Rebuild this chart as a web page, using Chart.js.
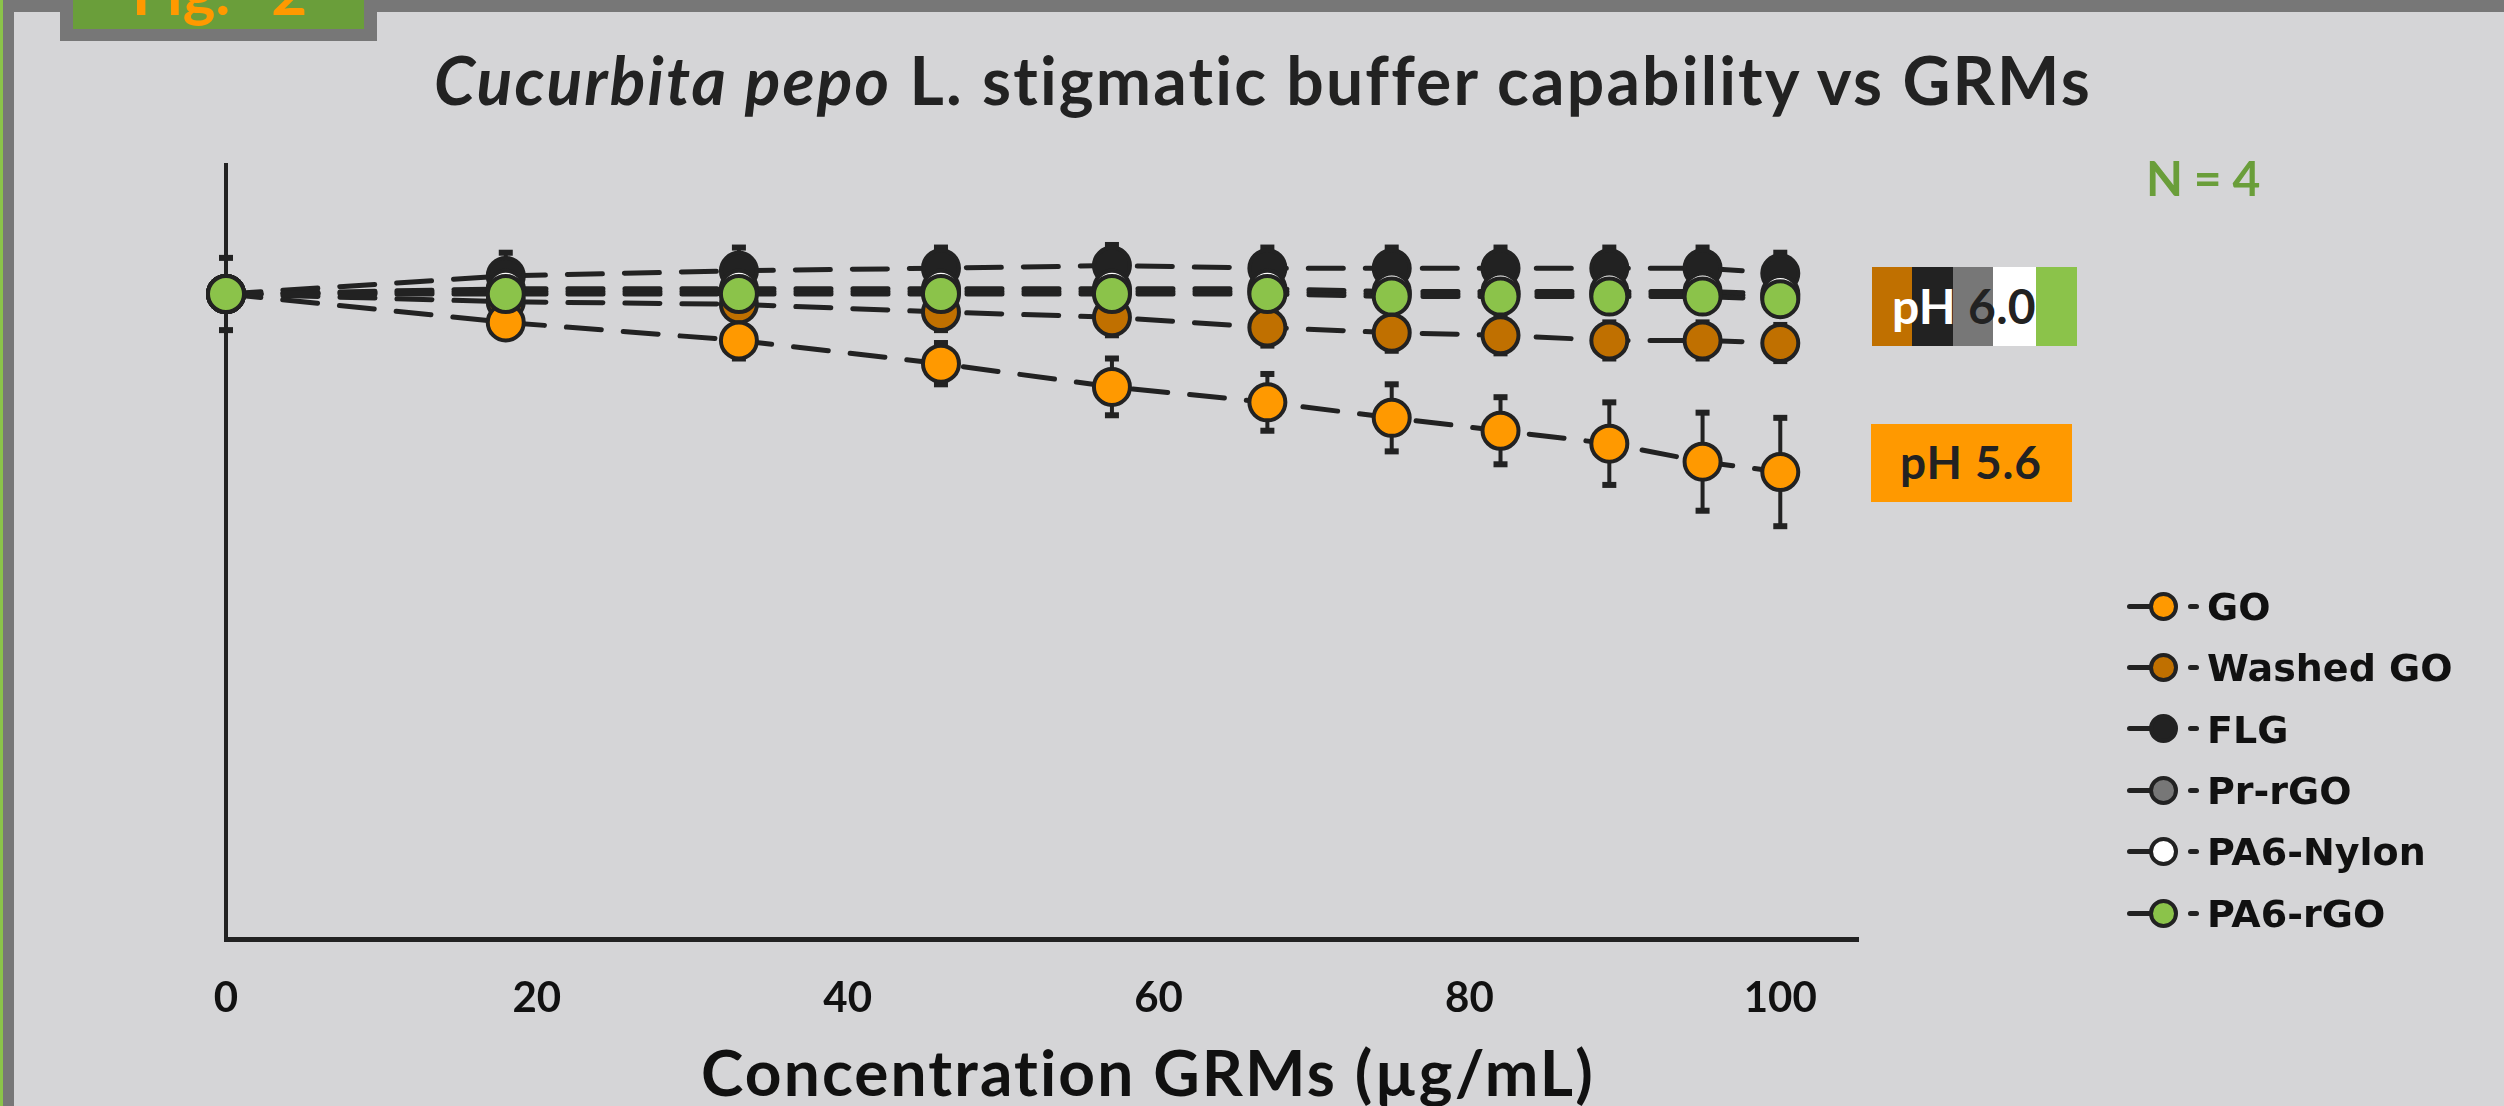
<!DOCTYPE html>
<html>
<head>
<meta charset="utf-8">
<script src="https://cdn.jsdelivr.net/npm/chart.js@4.4.1/dist/chart.umd.min.js"></script>
<style>
html,body{margin:0;padding:0;}
body{width:2504px;height:1106px;overflow:hidden;background:#D5D5D7;position:relative;font-family:Lato,sans-serif;}
.abs{position:absolute;white-space:nowrap;}
#topbar{left:0;top:0;width:2504px;height:12px;background:#777;}
#leftbar{left:0;top:0;width:14px;height:1106px;background:#777;border-left:3px solid #8BC34A;box-sizing:border-box;}
#tab{left:60px;top:0;width:317px;height:41px;background:#777;overflow:hidden;}
#tabInner{left:13px;top:0;width:291px;height:29px;background:#6A9E3A;overflow:hidden;}
#tabText{left:59px;top:-40px;font-size:62px;line-height:62px;font-weight:700;color:#FF9900;word-spacing:26px;}
#title{left:434px;top:46.5px;font-size:66px;line-height:66px;font-weight:700;color:#222;}
#xtitle{left:701px;top:1040.2px;font-size:64px;line-height:64px;font-weight:700;color:#111;}
#nlabel{left:2146px;top:154.4px;font-size:48px;line-height:48px;font-weight:700;color:#6A9E3A;}
#ph60{left:1872px;top:267px;width:205px;height:79px;
  background:linear-gradient(to right,#C07000 0,#C07000 40px,#222 40px,#222 81px,#777 81px,#777 121px,#FFF 121px,#FFF 164px,#8BC34A 164px,#8BC34A 205px);}
#ph60 span.t{position:absolute;left:20px;top:15.4px;font-size:48px;line-height:48px;font-weight:700;white-space:nowrap;}
#ph56{left:1871px;top:424px;width:201px;height:78px;background:#FF9900;}
#ph56 span.t{position:absolute;left:29px;top:15.2px;font-size:46px;line-height:46px;font-weight:700;color:#222;white-space:nowrap;}
#c{left:0;top:0;}
.lg-line{position:absolute;background:#222;height:5px;border-radius:2.5px;}
.lg-dot{position:absolute;width:29px;height:29px;border:4px solid #222;border-radius:50%;box-sizing:border-box;}
.lg-text{position:absolute;font-family:"DejaVu Sans",sans-serif;font-weight:700;font-size:38px;line-height:38px;color:#111;white-space:nowrap;}
</style>
</head>
<body>
<div id="topbar" class="abs"></div>
<div id="leftbar" class="abs"></div>
<div id="tab" class="abs"><div id="tabInner" class="abs"><span id="tabText" class="abs">Fig. 2</span></div></div>
<canvas id="c" class="abs" width="2504" height="1106"></canvas>
<div id="title" class="abs"><i>Cucurbita pepo</i> L. stigmatic buffer capability vs GRMs</div>
<div id="xtitle" class="abs"></div>
<div id="nlabel" class="abs">N = 4</div>
<div id="ph60" class="abs"><span class="t"><span style="color:#FFF">pH</span><span style="color:#222"> 6.0</span></span></div>
<div id="ph56" class="abs"><span class="t">pH 5.6</span></div>
<div id="legend"></div>
<script>
// ---------- data ----------
const xValues = [0, 18, 33, 46, 57, 67, 75, 82, 89, 95, 100];
const xTickValues = [0, 20, 40, 60, 80, 100];
const xTitle = 'Concentration GRMs (µg/mL)';

const seriesNames = ['GO', 'Washed GO', 'FLG', 'Pr-rGO', 'PA6-Nylon', 'PA6-rGO'];

const goValues        = [6.50, 6.39, 6.32, 6.23, 6.14, 6.08, 6.02, 5.97, 5.92, 5.85, 5.81];
const goErrors        = [0.14, 0.05, 0.07, 0.08, 0.11, 0.11, 0.13, 0.13, 0.16, 0.19, 0.21];
const washedGoValues  = [6.50, 6.47, 6.46, 6.43, 6.41, 6.37, 6.35, 6.34, 6.32, 6.32, 6.31];
const washedGoErrors  = [0.05, 0.07, 0.07, 0.07, 0.07, 0.07, 0.07, 0.07, 0.07, 0.07, 0.07];
const flgValues       = [6.50, 6.57, 6.59, 6.60, 6.61, 6.60, 6.60, 6.60, 6.60, 6.60, 6.58];
const flgErrors       = [0.05, 0.09, 0.09, 0.08, 0.08, 0.08, 0.08, 0.08, 0.08, 0.08, 0.08];
const prRgoValues     = [6.50, 6.51, 6.51, 6.51, 6.51, 6.51, 6.50, 6.50, 6.50, 6.50, 6.49];
const prRgoErrors     = [0.03, 0.03, 0.03, 0.03, 0.03, 0.03, 0.03, 0.03, 0.03, 0.03, 0.03];
const nylonValues     = [6.50, 6.52, 6.52, 6.52, 6.52, 6.52, 6.51, 6.51, 6.51, 6.51, 6.50];
const nylonErrors     = [0.03, 0.03, 0.03, 0.03, 0.03, 0.03, 0.03, 0.03, 0.03, 0.03, 0.03];
const pa6RgoValues    = [6.50, 6.50, 6.50, 6.50, 6.50, 6.50, 6.49, 6.49, 6.49, 6.49, 6.48];
const pa6RgoErrors    = [0.03, 0.03, 0.03, 0.03, 0.03, 0.03, 0.03, 0.03, 0.03, 0.03, 0.03];

const seriesValues = [goValues, washedGoValues, flgValues, prRgoValues, nylonValues, pa6RgoValues];
const seriesErrors = [goErrors, washedGoErrors, flgErrors, prRgoErrors, nylonErrors, pa6RgoErrors];

// ---------- styles ----------
const seriesColors = ['#FF9900', '#C07000', '#222222', '#777777', '#FFFFFF', '#8BC34A'];
const drawOrder    = [4, 5, 3, 2, 1, 0]; // lower = drawn on top

// ---------- error bars plugin ----------
const errorBarPlugin = {
  id: 'errorBars',
  beforeDatasetsDraw(chart) {
    const ctx = chart.ctx;
    const xs = chart.scales.x, ys = chart.scales.y;
    ctx.save();
    ctx.strokeStyle = '#222';
    ctx.fillStyle = '#222';
    ctx.lineWidth = 4;
    chart.data.datasets.forEach((ds, i) => {
      if (!chart.isDatasetVisible(i) || !ds.errors) return;
      ds.data.forEach((p, j) => {
        const e = ds.errors[j];
        if (!e) return;
        const px = xs.getPixelForValue(p.x);
        const yt = ys.getPixelForValue(p.y + e);
        const yb = ys.getPixelForValue(p.y - e);
        ctx.beginPath();
        ctx.moveTo(px, yt);
        ctx.lineTo(px, yb);
        ctx.stroke();
        ctx.fillRect(px - 7, yt - 3, 14, 6);
        ctx.fillRect(px - 7, yb - 3, 14, 6);
      });
    });
    ctx.restore();
  }
};

// ---------- chart ----------
const datasets = seriesNames.map((name, i) => ({
  label: name,
  data: xValues.map((x, j) => ({ x: x, y: seriesValues[i][j] })),
  errors: seriesErrors[i],
  borderColor: '#222',
  borderWidth: 5,
  borderDash: [35, 22],
  borderCapStyle: 'round',
  pointRadius: 18,
  pointHoverRadius: 18,
  pointBorderWidth: 4,
  pointBackgroundColor: seriesColors[i],
  pointBorderColor: '#222',
  tension: 0,
  fill: false,
  clip: false,
  order: drawOrder[i]
}));

new Chart(document.getElementById('c'), {
  type: 'line',
  data: { datasets: datasets },
  options: {
    responsive: false,
    animation: false,
    events: [],
    layout: { padding: { left: 226, right: 646, top: 165, bottom: 0 } },
    plugins: { legend: { display: false }, tooltip: { enabled: false }, title: { display: false } },
    scales: {
      x: {
        type: 'linear', min: 0, max: 105,
        afterFit(s) { s.height = 167; },
        afterBuildTicks(s) { s.ticks = xTickValues.map(v => ({ value: v })); },
        grid: { display: false, drawTicks: false },
        border: { display: true, color: '#222', width: 5 },
        ticks: {
          padding: 38, color: '#111', maxRotation: 0, autoSkip: false,
          font: { family: 'Lato', weight: 'bold', size: 42, lineHeight: 1 },
          callback: (v) => String(v)
        },
        title: { display: false, text: xTitle }
      },
      y: {
        type: 'linear', min: 4, max: 7,
        afterFit(s) { s.width = 0; },
        grid: { display: false, drawTicks: false },
        border: { display: true, color: '#222', width: 4 },
        ticks: { display: false }
      }
    }
  },
  plugins: [errorBarPlugin]
});

// ---------- axis title (HTML) ----------
document.getElementById('xtitle').textContent = xTitle;

// ---------- legend (HTML) ----------
const legend = document.getElementById('legend');
seriesNames.forEach((name, i) => {
  const cy = 606 + i * 61.4;
  const line = document.createElement('div');
  line.className = 'lg-line';
  line.style.left = '2127px'; line.style.width = '26px'; line.style.top = (cy - 2.5) + 'px';
  legend.appendChild(line);
  const dot = document.createElement('div');
  dot.className = 'lg-dot';
  dot.style.left = '2149px'; dot.style.top = (cy - 14.5) + 'px'; dot.style.background = seriesColors[i];
  legend.appendChild(dot);
  const dash = document.createElement('div');
  dash.className = 'lg-line';
  dash.style.left = '2188px'; dash.style.width = '11px'; dash.style.top = (cy - 2.5) + 'px';
  legend.appendChild(dash);
  const t = document.createElement('div');
  t.className = 'lg-text';
  t.textContent = name;
  t.style.left = '2207px'; t.style.top = (cy - 18.2) + 'px';
  legend.appendChild(t);
});

// fit text widths
function fit(el, target) {
  const n = el.textContent.length;
  const w = el.getBoundingClientRect().width;
  el.style.letterSpacing = ((target - w) / n) + 'px';
}
fit(document.getElementById('title'), 1658);
fit(document.getElementById('xtitle'), 895);
fit(document.getElementById('nlabel'), 114);
fit(document.querySelector('#ph60 .t'), 144);
fit(document.querySelector('#ph56 .t'), 142);
</script>
</body>
</html>
